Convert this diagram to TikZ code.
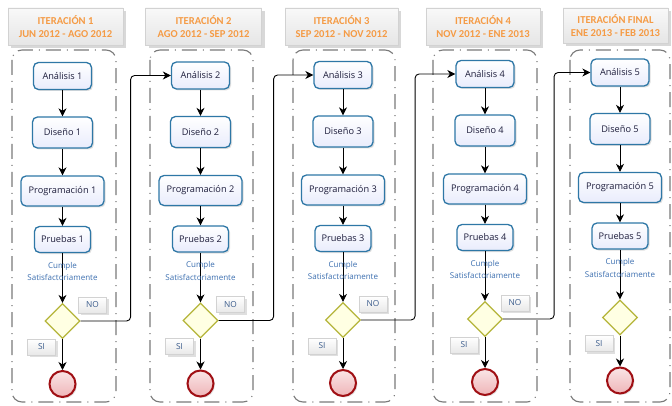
\documentclass[tikz,border=0pt]{standalone}
\usepackage{fontspec}
\setmainfont{Open Sans}
\newfontfamily\hdrfont{Carlito}
\usetikzlibrary{shapes.geometric,shadows,arrows.meta,calc}
\definecolor{boxborder}{HTML}{2E77A6}
\definecolor{boxfill}{HTML}{E9ECFC}
\definecolor{hdrorange}{HTML}{F59B45}
\definecolor{cumpleblue}{HTML}{3C6FB0}
\definecolor{dmdborder}{HTML}{B5B53A}
\definecolor{dmdfill}{HTML}{FFFFE3}
\definecolor{endborder}{HTML}{A00F14}
\definecolor{endfill}{HTML}{EFB5B8}
\definecolor{lbltext}{HTML}{3B5C8C}
\definecolor{lanegray}{HTML}{7A7A7A}
\definecolor{boxtext}{HTML}{1E1E3C}
\tikzset{
  stepbox/.style={draw=boxborder, line width=1.3pt, rounded corners=5pt,
    top color=white, bottom color=boxfill, inner xsep=2pt, inner ysep=0pt,
    font=\fontsize{9.2}{11}\selectfont, text=boxtext,
    drop shadow={opacity=0.25,shadow xshift=1.5pt,shadow yshift=-1.5pt}},
  anbox/.style={stepbox, minimum width=58pt, minimum height=27pt},
  dibox/.style={stepbox, minimum width=60pt, minimum height=31pt},
  prbox/.style={stepbox, minimum width=83pt, minimum height=30pt},
  pubox/.style={stepbox, minimum width=56pt, minimum height=26pt},
  dmd/.style={diamond, draw=dmdborder, line width=1.2pt, fill=dmdfill,
    minimum width=35pt, minimum height=35pt, inner sep=0pt},
  endc/.style={circle, draw=endborder, line width=2pt, top color=endfill!35, bottom color=endfill,
    minimum size=26pt, inner sep=0pt,
    drop shadow={opacity=0.2,shadow xshift=1.5pt,shadow yshift=-1.5pt}},
  lbl/.style={draw=gray!35, line width=0.4pt, top color=white, bottom color=gray!18,
    minimum width=28pt, minimum height=16pt, inner sep=0pt,
    font=\fontsize{8.3}{9}\selectfont, text=lbltext,
    drop shadow={opacity=0.25,shadow xshift=2pt,shadow yshift=-2pt}},
  cumple/.style={align=center, font=\fontsize{8}{12.5}\selectfont, text=cumpleblue, inner sep=0pt},
  hdr/.style={draw=gray!35, line width=0.4pt, top color=gray!5, bottom color=gray!20,
    minimum height=37pt, align=center, inner sep=0pt,
    font=\hdrfont\bfseries\fontsize{10.6}{13.5}\selectfont, text=hdrorange,
    drop shadow={opacity=0.3,shadow xshift=3pt,shadow yshift=-3pt}},
  lane/.style={draw=lanegray, line width=1.1pt, rounded corners=10pt,
    dash pattern=on 15pt off 6pt on 1pt off 6pt},
  conn/.style={draw=black, line width=0.9pt, -{Stealth[length=8pt,width=8pt,inset=2.5pt]}},
  plainconn/.style={draw=black, line width=0.9pt, rounded corners=4pt, -{Stealth[length=8pt,width=8pt,inset=2.5pt]}}
}
\begin{document}
\begin{tikzpicture}[x=1pt,y=-1pt]
\useasboundingbox (0,0) rectangle (672,406);
\fill[white] (0,0) rectangle (672,406);
% lanes
\foreach \l/\r in {12/116, 150/253, 293/395, 433/537, 570/670}
  \draw[lane] (\l,50) rectangle (\r,402);
% headers
\node[hdr, minimum width=115pt] (h1) at (65.5,26.5) {ITERACIÓN 1\\JUN 2012 - AGO 2012};
\node[hdr, minimum width=116pt] (h2) at (203.5,26.5) {ITERACIÓN 2\\AGO 2012 - SEP 2012};
\node[hdr, minimum width=113pt] (h3) at (341.5,26.5) {ITERACIÓN 3\\SEP 2012 - NOV 2012};
\node[hdr, minimum width=114pt] (h4) at (483,26.5) {ITERACIÓN 4\\NOV 2012 - ENE 2013};
\node[hdr, minimum width=105pt, minimum height=35pt] (h5) at (615.5,25.5) {ITERACIÓN FINAL\\ENE 2013 - FEB 2013};
% columns
\foreach \i/\x/\dy in {1/62.5/0, 2/200.5/-0.5, 3/343/-1, 4/485/-2, 5/620/-3.5} {
  \node[anbox] (a\i) at (\x,76+\dy) {Análisis \i};
  \node[dibox] (b\i) at (\x,132.5+\dy) {Diseño \i};
  \node[prbox] (p\i) at (\x,191+\dy) {Programación \i};
  \node[pubox] (t\i) at (\x,239.5+\dy) {Pruebas \i};
  \node[dmd] (d\i) at (\x,321+\dy) {};
  \node[endc] (e\i) at (\x,384+\dy) {};
  \draw[conn] (a\i) -- (b\i);
  \draw[conn] (b\i) -- (p\i);
  \draw[conn] (p\i) -- (t\i);
  \draw[conn] (t\i) -- (d\i);
  \draw[conn] (d\i) -- (e\i);
  \node[cumple] (c\i) at (\x,271.5+\dy) {Cumple\\Satisfactoriamente};
  \node[lbl] (s\i) at (\x-21,347+\dy) {SI};
}
\foreach \i in {1,...,4}
  \node[lbl] (n\i) at ($(d\i)+(30,-16)$) {NO};
% loop-back connectors
\draw[plainconn] (d1.east) -- ++(50,0) |- (a2.west);
\draw[plainconn] (d2.east) -- ++(55,0) |- (a3.west);
\draw[plainconn] (d3.east) -- ++(54,0) |- (a4.west);
\draw[plainconn] (d4.east) -- ++(51,0) |- (a5.west);
\end{tikzpicture}
\end{document}
